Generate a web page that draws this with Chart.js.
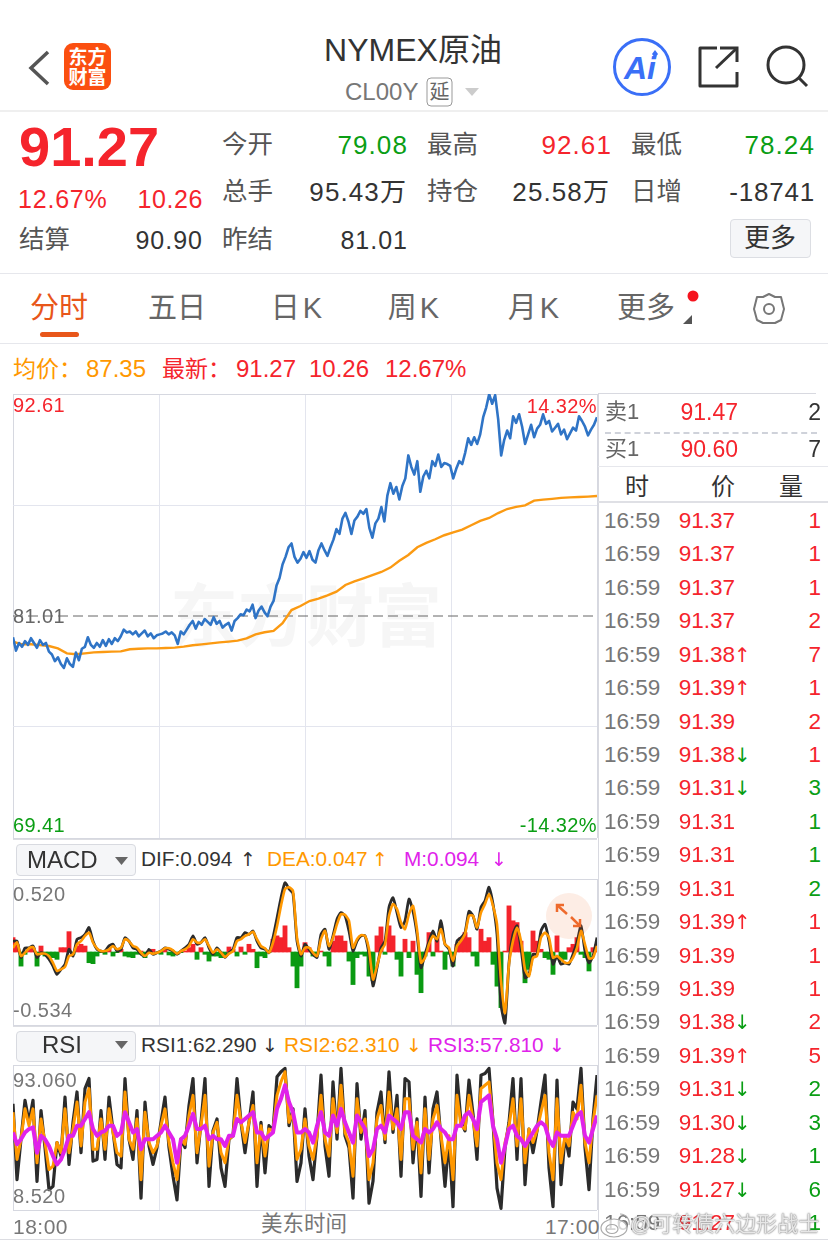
<!DOCTYPE html>
<html lang="zh"><head><meta charset="utf-8">
<script src="https://cdn.jsdelivr.net/npm/chart.js@4/dist/chart.umd.min.js"></script>
<style>
html,body{margin:0;padding:0;background:#fff;width:828px;height:1244px;overflow:hidden;font-family:"Liberation Sans","Noto Sans CJK SC",sans-serif}
.t{position:absolute;white-space:nowrap;line-height:1}
.hl{position:absolute;background:#e6e7ec}
canvas{position:absolute;display:block}
svg{position:absolute;overflow:visible}
#wm{position:absolute;left:170px;top:578px;font-size:68px;font-weight:700;color:#f6f6f6;font-family:"Noto Sans CJK SC";line-height:1;white-space:nowrap}
</style></head><body>
<div id="wm">东方财富</div>
<svg style="left:0;top:0" width="828" height="120">
 <polyline points="48,52 31,68 48,84" fill="none" stroke="#555" stroke-width="3.5"/>
 <rect x="64" y="43" width="47" height="47" rx="9" fill="#fb4f10"/>
 <text x="87.5" y="64" font-size="19" font-weight="700" fill="#fff" text-anchor="middle" font-family="Noto Sans CJK SC">东方</text>
 <text x="87.5" y="84" font-size="19" font-weight="700" fill="#fff" text-anchor="middle" font-family="Noto Sans CJK SC">财富</text>
 <rect x="427" y="78" width="25" height="28" rx="4" fill="none" stroke="#999" stroke-width="1"/>
 <text x="439.5" y="99" font-size="20" fill="#666" text-anchor="middle" font-family="Noto Sans CJK SC">延</text>
 <polygon points="465,88 479,88 472,96" fill="#ccc"/>
 <circle cx="642" cy="67" r="27.5" fill="none" stroke="#3a6ff7" stroke-width="3"/>
 <text x="640" y="79" font-size="32" font-weight="700" font-style="italic" fill="#3a6ff7" text-anchor="middle" font-family="Liberation Sans">Ai</text>
 <polygon points="655,50 658,54 655,58 652,54" fill="#3a6ff7"/>
 <polyline points="717,48 700,48 700,86 737,86 737,72" fill="none" stroke="#333" stroke-width="3" stroke-linejoin="round"/>
 <polyline points="720,48 737,48 737,62" fill="none" stroke="#333" stroke-width="3"/>
 <line x1="737" y1="48" x2="716" y2="68" stroke="#333" stroke-width="3"/>
 <circle cx="786" cy="65" r="18" fill="none" stroke="#333" stroke-width="3"/>
 <line x1="799" y1="78" x2="807" y2="86" stroke="#333" stroke-width="3"/>
 <rect x="40" y="332" width="39" height="5" rx="2.5" fill="#e8561a"/>
 <circle cx="693" cy="296" r="5.5" fill="#f5141e"/>
 <polygon points="692,315 692,324 683,324" fill="#555"/>
</svg>
<svg style="left:752px;top:292px" width="34" height="34" viewBox="0 0 34 34">
 <polygon points="17,2 23,5 29,5 32,17 29,28 23,31 11,31 5,28 2,17 5,5 11,5" fill="none" stroke="#777" stroke-width="2" stroke-linejoin="round"/>
 <circle cx="17" cy="17" r="5" fill="none" stroke="#777" stroke-width="2"/>
</svg>
<div class="hl" style="left:0;top:110px;width:828px;height:2px;background:#efefef"></div>
<div class="hl" style="left:0;top:273px;width:828px;height:1px"></div>
<div class="hl" style="left:0;top:343px;width:828px;height:1px"></div>
<div class="hl" style="left:730px;top:219px;width:79px;height:37px;background:#f5f6f8;border:1px solid #dcdee3;border-radius:4px"></div>
<div class="hl" style="left:16px;top:844px;width:118px;height:30px;background:#f5f6f8;border:1px solid #d8dae0;border-radius:4px"></div>
<div class="hl" style="left:16px;top:1031px;width:118px;height:29px;background:#f5f6f8;border:1px solid #d8dae0;border-radius:4px"></div>
<svg style="left:0;top:840px" width="140" height="230">
 <polygon points="115,17 128,17 121.5,25" fill="#666"/>
 <polygon points="115,201 128,201 121.5,209" fill="#666"/>
</svg>
<canvas id="mainC"></canvas>
<canvas id="macdC"></canvas>
<canvas id="rsiC"></canvas>
<svg style="left:545px;top:892px" width="50" height="50">
 <circle cx="24" cy="24" r="23" fill="#f06a2a" fill-opacity=".12"/>
 <g fill="none" stroke="#ee6a2c" stroke-width="2.5">
  <polyline points="12,20 12,13 19,13"/><line x1="12" y1="13" x2="22" y2="22"/>
  <polyline points="35,27 35,34 28,34"/><line x1="35" y1="34" x2="26" y2="25"/>
 </g>
</svg>
<div class="hl" style="left:598px;top:393px;width:1px;height:846px;background:#d8d9e0"></div>
<div class="hl" style="left:598px;top:393px;width:218px;height:1px;background:#d8d9e0"></div>
<div class="hl" style="left:605px;top:432px;width:212px;height:0;background:none;border-top:2px dashed #cfd2da"></div>
<div class="hl" style="left:598px;top:466px;width:230px;height:1px"></div>
<div class="hl" style="left:598px;top:501px;width:230px;height:2px;background:#dfe0e5"></div>
<div class="hl" style="left:0;top:1239px;width:828px;height:1px;background:#dcdde2"></div>
<div class="hl" style="left:13px;top:839px;width:584px;height:1px;background:#dcdde2"></div>
<div class="hl" style="left:13px;top:1026px;width:584px;height:1px;background:#dcdde2"></div>
<div id="texts"></div>
<svg style="left:600px;top:1210px;z-index:5" width="32" height="30">
 <ellipse cx="14" cy="18" rx="13" ry="9" fill="#ffffffb0" stroke="#aaa" stroke-width="1.2"/>
 <ellipse cx="12" cy="19" rx="6" ry="4.5" fill="none" stroke="#aaa" stroke-width="1.2"/>
 <path d="M20 4 a9 9 0 0 1 9 11" fill="none" stroke="#aaa" stroke-width="1.2"/>
</svg>
<div class="t" style="left:630px;top:1213px;font-size:21px;z-index:5;color:#ffffffd0;text-shadow:0 0 2px #777,0 0 1px #777">@可转债六边形战士</div>
<script>
const priceValues=[79.9,79.2,79.6,79.4,79.7,79.5,79.85,79.6,79.35,79.75,79.5,79.6,79.15,79.0,78.65,78.85,78.5,78.3,78.8,78.5,78.35,79.1,78.7,79.3,79.4,79.9,79.5,79.35,79.6,79.4,79.75,79.45,79.8,79.55,79.85,79.7,79.95,80.3,80.15,80.2,80.05,80.2,79.95,80.1,80.25,79.95,80.1,79.85,80.0,80.05,80.1,80.2,80.05,80.15,80.0,79.55,80.2,80.05,80.3,80.55,80.75,80.35,80.7,80.55,80.85,80.7,80.55,80.95,80.6,80.75,80.4,80.55,80.65,80.25,80.75,80.9,81.1,81.05,81.35,81.25,81.6,80.9,81.3,81.5,81.2,81.0,81.5,81.8,82.6,83.0,83.7,84.1,84.6,84.8,84.1,83.8,84.0,84.35,84.05,84.4,83.95,83.8,84.45,84.8,84.45,84.15,84.6,85.0,85.55,85.3,86.1,86.4,85.95,85.3,86.0,86.2,86.5,86.35,86.6,85.6,85.1,85.85,86.1,86.7,85.95,87.3,87.95,87.4,87.75,87.1,87.8,88.2,89.4,88.8,88.4,89.1,87.5,88.3,88.6,88.2,89.1,88.85,89.45,88.8,89.0,88.95,88.85,88.2,88.7,89.1,88.95,89.55,90.3,89.95,90.35,90.0,90.5,91.4,91.9,92.6,92.1,92.55,91.3,89.4,90.2,90.7,90.3,91.45,91.1,91.55,90.9,90.0,90.5,91.0,90.35,90.8,91.0,91.55,91.05,91.2,90.65,90.85,91.05,90.5,90.75,90.25,90.55,90.85,90.7,91.45,91.2,90.9,90.45,90.75,91.0,91.4];
const avgValues=[79.67,79.53,79.53,79.49,79.44,79.32,79.06,79.01,79.06,79.11,79.13,79.15,79.16,79.27,79.30,79.32,79.32,79.34,79.36,79.41,79.48,79.53,79.58,79.63,79.67,79.72,79.84,80.05,80.16,80.23,80.63,81.32,81.53,81.79,81.92,82.09,82.28,82.63,82.82,82.98,83.15,83.31,83.54,83.90,84.2,84.6,84.83,85.02,85.23,85.38,85.52,85.75,85.98,86.13,86.39,86.6,86.71,86.79,87.04,87.09,87.13,87.18,87.21,87.23,87.25,87.28];
const prevSettle=[81.01,81.01];
const difValues=[.08,.08,-.04,.03,.03,.045,-.04,-.005,-.017,-.054,-.104,-.165,-.128,-.091,.02,-.03,.094,.106,.13,.18,.08,.02,.007,.007,.045,.057,.007,.02,.106,.08,.03,.02,-.017,-.03,.02,-.017,-.005,.007,.03,.02,.007,-.017,.007,.03,.057,.119,.057,.07,.106,.03,-.017,.03,-.005,-.04,-.005,.02,.106,.106,.143,.13,.155,.08,.03,.02,-.005,.106,.25,.4,.51,.465,.43,.08,
-.03,.057,.02,-.017,-.04,.13,.168,.02,.119,.242,.29,.267,.155,.007,.08,.119,.119,-.017,-.25,-.116,.03,.08,.33,.40,.29,.18,.23,.39,.30,.13,-.116,-.017,.08,.155,.08,.23,.057,.02,-.104,.08,.106,.143,.30,.267,.168,.33,.378,.477,.353,.13,-.388,-.524,-.08,.13,.193,.03,-.19,-.165,-.017,-.017,.155,.205,.08,-.09,-.03,-.09,-.08,-.09,-.017,.07,.193,.007,-.08,-.03,.106];
const deaValues=[.03,.07,-.03,-.005,.027,.037,-.017,-.012,-.012,-.03,-.08,-.14,-.128,-.11,-.03,-.017,.057,.08,.119,.143,.07,.027,.007,.007,.02,.044,.02,.032,.094,.08,.044,.032,-.005,-.03,-.005,-.012,-.005,.007,.027,.027,.012,-.012,.007,.02,.044,.094,.07,.07,.094,.044,-.005,.02,-.005,-.037,-.012,.007,.081,.094,.119,.131,.15,.094,.044,.027,-.005,.07,.19,.34,.464,.477,.45,.106,
-.017,.032,.032,-.005,-.03,.094,.156,.044,.106,.205,.279,.274,.23,.032,.094,.124,.119,.02,-.203,-.104,.007,.057,.267,.353,.316,.217,.168,.279,.34,.168,-.079,-.042,.057,.119,.094,.168,.057,.032,-.067,.044,.082,.131,.267,.267,.18,.291,.353,.427,.34,.205,-.215,-.45,-.09,.082,.18,.082,-.128,-.178,-.042,-.03,.106,.143,.106,-.042,-.03,-.054,-.079,-.079,-.042,.032,.156,.057,-.047,-.042,.044];
const macdBars=[.106,.057,-.104,-.017,.02,.032,-.104,.044,-.03,-.042,-.042,-.054,.032,.032,.15,-.017,.044,.057,.044,-.079,-.086,-.03,-.005,-.017,.02,-.03,-.005,.02,-.03,-.037,-.042,-.017,.007,-.042,.007,.02,-.005,-.017,.02,-.022,-.03,-.017,-.005,.007,.032,.057,-.054,.032,-.017,-.067,-.03,-.03,-.042,-.03,.037,.02,-.03,.037,-.017,.057,.02,-.116,-.03,-.042,-.005,.094,.119,.106,.193,.032,-.104,-.264,
-.104,.069,.032,-.03,-.017,.007,-.03,-.104,.08,.119,.119,.08,-.067,-.24,-.042,-.017,-.03,-.178,-.21,.119,.185,-.017,.193,.119,-.054,-.178,.094,-.042,.08,-.165,-.30,-.03,.143,-.03,.106,.007,-.128,-.017,-.104,.057,.106,.143,.106,-.03,-.104,.168,.08,.106,-.091,-.252,-.41,.007,.34,.23,.217,.08,-.227,-.128,.155,.08,.02,-.042,-.054,-.165,.119,-.067,-.054,.032,.057,.106,-.017,-.042,-.14,.032,.057];
const rsi1Values=[71,26,50,73,60,73,25,67,45,20,22,48,40,75,35,60,78,42,80,86,37,38,67,38,75,55,35,33,86,50,38,67,15,72,46,35,45,60,75,45,28,14,50,45,70,86,36,60,86,22,55,62,33,22,50,52,86,60,42,60,78,22,60,30,58,55,87,90,92,58,68,25,
36,68,40,26,52,88,46,28,84,50,92,52,45,15,83,50,67,12,25,66,78,48,90,54,76,28,86,84,36,62,16,75,30,68,78,50,22,50,10,88,60,55,85,65,38,88,89,92,60,21,9,45,60,86,38,86,23,56,42,55,72,88,33,10,85,23,52,40,72,68,92,45,20,62,88];
const rsi2Values=[66,38,50,68,58,68,36,62,48,32,34,48,42,68,42,56,72,46,72,80,44,44,62,44,68,54,42,40,78,50,44,62,26,66,48,42,46,58,68,48,36,26,50,47,64,76,42,58,76,34,54,60,42,36,50,52,76,60,48,60,70,36,58,40,56,55,76,84,90,60,66,38,
44,62,46,38,52,76,50,40,74,54,82,54,48,28,74,54,62,26,36,62,70,50,78,56,68,38,74,74,44,60,30,68,38,62,70,52,36,52,26,76,58,56,76,62,46,80,82,84,60,36,26,48,58,74,46,74,36,56,48,55,66,76,42,26,74,36,52,46,66,62,82,48,36,60,76];
const rsi3Values=[54,47,50,54,56,57,42,52,50,46,40,35,38,44,52,52,58,58,62,66,56,52,54,55,58,58,52,54,66,60,54,56,44,50,50,50,52,54,58,54,50,36,50,52,58,65,56,56,58,50,52,50,50,46,52,52,62,60,62,64,66,54,54,50,52,54,68,74,82,72,66,54,
54,56,54,48,58,66,54,52,64,58,68,60,54,48,64,60,56,40,44,56,58,54,64,62,60,56,66,66,52,50,48,56,54,56,60,56,54,50,50,58,58,64,66,62,56,72,74,76,58,50,36,46,56,58,52,50,46,50,54,58,60,58,50,46,54,52,52,52,58,64,66,52,48,56,64];
const tradePrices=["91.37","91.37","91.37","91.37","91.38","91.39","91.39","91.38","91.31","91.31","91.31","91.31","91.39","91.39","91.39","91.38","91.39","91.31","91.30","91.28","91.27","91.27"];
const tradeArrows=["","","","","↑","↑","","↓","↓","","","","↑","","","↓","↑","↓","↓","↓","↓",""];
const tradeVolumes=[1,1,1,2,7,1,2,1,3,1,1,2,1,1,1,2,5,2,3,1,6,1];
const tradeVolumeUp=[1,1,1,1,1,1,1,1,0,0,0,0,1,1,1,1,1,0,0,0,0,0];
const tradeTime="16:59";
const mainScaleLabels=["92.61","81.01","69.41"];
const pctLabels=["14.32%","-14.32%"];
const macdScaleLabels=["0.520","-0.534"];
const rsiScaleLabels=["93.060","8.520"];
const timeLabels=["18:00","美东时间","17:00"];
const sessionMinutes=1380;

const RED="#f5242c",GREEN="#0a9e14",DARK="#333",GRAY="#777",ORANGE="#ff9800",MAG="#e022ea",BLK="#2b2b2b";
const box=document.getElementById("texts");
function t(s,x,y,size,color,align,weight,ls,font){
  const d=document.createElement("div");d.className="t";d.textContent=s;
  d.style.fontSize=size+"px";d.style.color=color||DARK;d.style.top=y+"px";
  let tr="translateY(-50%)";
  if(align==="r"){d.style.right=(828-x)+"px";}
  else if(align==="c"){d.style.left=x+"px";tr="translate(-50%,-50%)";}
  else d.style.left=x+"px";
  d.style.transform=tr;if(weight)d.style.fontWeight=weight;
  if(ls)d.style.letterSpacing=ls+"px";if(font)d.style.fontFamily=font;box.appendChild(d);
}
const L="l",N=null,AF='"DejaVu Sans"';
t("NYMEX原油",413,50,32,DARK,"c");t("CL00Y",345,92,24,GRAY);
t("91.27",19,147,56,RED,L,700);t("12.67%",18,199,25,RED,L,N,.8);t("10.26",203,199,25,RED,"r",N,.6);
t("结算",19,240,25.5,"#555");t("90.90",203,240,25,DARK,"r",N,1);
t("今开",222,145,25.5,"#555");t("79.08",408,145,26,GREEN,"r",N,1.1);
t("最高",427,145,25.5,"#555");t("92.61",612,145,26,RED,"r",N,1.1);
t("最低",631,145,25.5,"#555");t("78.24",815,145,26,GREEN,"r",N,1.1);
t("总手",222,192,25.5,"#555");t("95.43万",407,192,26,DARK,"r",N,1.1);
t("持仓",427,192,25.5,"#555");t("25.58万",610,192,26,DARK,"r",N,1.1);
t("日增",631,192,25.5,"#555");t("-18741",815,192,26,DARK,"r",N,.8);
t("昨结",222,240,25.5,"#555");t("81.01",408,240,25,DARK,"r",N,1);
t("更多",770,238,26,DARK,"c");
t("分时",59,308,29,"#e8561a","c");t("五日",177,308,29,"#666","c");t("日K",298,308,29,"#666","c",N,3);
t("周K",415,308,29,"#666","c",N,3);t("月K",535,308,29,"#666","c",N,3);t("更多",646,308,29,"#666","c");
t("均价：",13,369,23,ORANGE);t("87.35",86,369,24,ORANGE);t("最新：",162,369,23,RED);
t("91.27",236,369,24,RED);t("10.26",309,369,24,RED);t("12.67%",385,369,24,RED);
t(mainScaleLabels[0],13,405,20,RED,L,N,.4);t(mainScaleLabels[1],13,616,20,"#666",L,N,.4);t(mainScaleLabels[2],13,825,20,GREEN,L,N,.4);
t(pctLabels[0],597,406,20,RED,"r",N,.4);t(pctLabels[1],597,825,20,GREEN,"r",N,.4);
t("MACD",27,860,24,DARK);
t("DIF:0.094",141,859,20.8,DARK);t("↑",240,859,19,DARK,L,N,N,AF);
t("DEA:0.047",267,859,20.8,ORANGE);t("↑",372,859,19,ORANGE,L,N,N,AF);
t("M:0.094",404,859,20.8,MAG);t("↓",491,859,19,MAG,L,N,N,AF);
t(macdScaleLabels[0],13,894,20,GRAY,L,N,.5);t(macdScaleLabels[1],13,1010,20,GRAY,L,N,.5);
t("RSI",62,1045,24,DARK,"c");
t("RSI1:62.290",141,1045,20.8,DARK);t("↓",262,1045,19,DARK,L,N,N,AF);
t("RSI2:62.310",284,1045,20.8,ORANGE);t("↓",406,1045,19,ORANGE,L,N,N,AF);
t("RSI3:57.810",428,1045,20.8,MAG);t("↓",549,1045,19,MAG,L,N,N,AF);
t(rsiScaleLabels[0],13,1080,20,GRAY,L,N,.5);t(rsiScaleLabels[1],13,1196,20,GRAY,L,N,.5);
t(timeLabels[0],13,1226,21,GRAY,L,N,.5);t(timeLabels[1],304,1225,21.5,GRAY,"c");t(timeLabels[2],600,1226,21,GRAY,"r",N,.5);
t("卖1",605,412,22,"#666");t("91.47",738,412,23,RED,"r");t("2",821,412,23,DARK,"r");
t("买1",605,449,22,"#666");t("90.60",738,449,23,RED,"r");t("7",821,449,23,DARK,"r");
t("时",637,487,24,DARK,"c");t("价",723,487,24,DARK,"c");t("量",791,487,24,DARK,"c");
const rowY0=521,rowStep=33.43;
tradePrices.forEach((p,i)=>{
  const y=rowY0+i*rowStep;
  t(tradeTime,604,y,22.5,GRAY);t(p,735,y,22.5,RED,"r");
  if(tradeArrows[i])t(tradeArrows[i],734,y,20,tradeArrows[i]==="↑"?RED:GREEN,L,N,N,AF);
  t(String(tradeVolumes[i]),821,y,22.5,tradeVolumeUp[i]?RED:GREEN,"r");
});

const gridColor="#e3e5ee",edgeColor="#d6d8e0";
const toXY=a=>a.map((v,i)=>({x:i/(a.length-1)*sessionMinutes,y:v}));
const xTicks=[0,345,690,1035,1380];
function makeChart(id,left,top,w,h,datasets,yMin,yMax,yTicks){
  const c=document.getElementById(id);
  c.style.left=(left-1)+"px";c.style.top=(top-1)+"px";
  c.width=w+2;c.height=h+2;c.style.width=(w+2)+"px";c.style.height=(h+2)+"px";
  const edge=(lo,hi)=>ctx=>(ctx.tick&&(ctx.tick.value===lo||ctx.tick.value===hi))?edgeColor:gridColor;
  return new Chart(c,{type:"line",data:{datasets},options:{
    responsive:false,animation:false,devicePixelRatio:1,
    layout:{padding:1},
    plugins:{legend:{display:false},tooltip:{enabled:false}},
    elements:{point:{radius:0}},
    scales:{
      x:{type:"linear",min:0,max:sessionMinutes,offset:false,
         afterBuildTicks:s=>{s.ticks=xTicks.map(value=>({value}))},
         ticks:{display:false},border:{display:false},grid:{offset:false,color:edge(0,sessionMinutes),drawTicks:false,lineWidth:1}},
      y:{type:"linear",min:yMin,max:yMax,
         afterBuildTicks:s=>{s.ticks=yTicks.map(value=>({value}))},
         ticks:{display:false},border:{display:false},grid:{color:edge(yMin,yMax),drawTicks:false,lineWidth:1}}
    }}});
}
const line=(a,color,w,order,extra)=>Object.assign({type:"line",data:toXY(a),borderColor:color,borderWidth:w,pointRadius:0,tension:0,fill:false,order},extra||{});
makeChart("mainC",13,394,584,444,[
  line(priceValues,"#2f74c6",2.6,1,{borderJoinStyle:"round"}),
  line(avgValues,"#fb9a12",2.4,2),
  line(prevSettle,"#666",1,3,{borderDash:[10,5]})
],69.41,92.61,[69.41,75.26,86.76,92.61]);
makeChart("macdC",13,879,584,146,[
  line(deaValues,"#ff9800",2.6,1,{tension:.2}),
  line(difValues,BLK,2.8,2,{tension:.2}),
  {type:"bar",data:toXY(macdBars),backgroundColor:macdBars.map(v=>v>=0?"#f4242c":"#0a9a12"),barThickness:4.2,borderWidth:0,order:3}
],-.538,.538,[-.538,.538]);
makeChart("rsiC",13,1065,584,145,[
  line(rsi3Values,"#e022ea",4,1,{borderJoinStyle:"round"}),
  line(rsi2Values,"#ff9800",3,2,{borderJoinStyle:"round"}),
  line(rsi1Values,BLK,3.2,3,{borderJoinStyle:"round"})
],8,94,[8,94]);
</script>
</body></html>
